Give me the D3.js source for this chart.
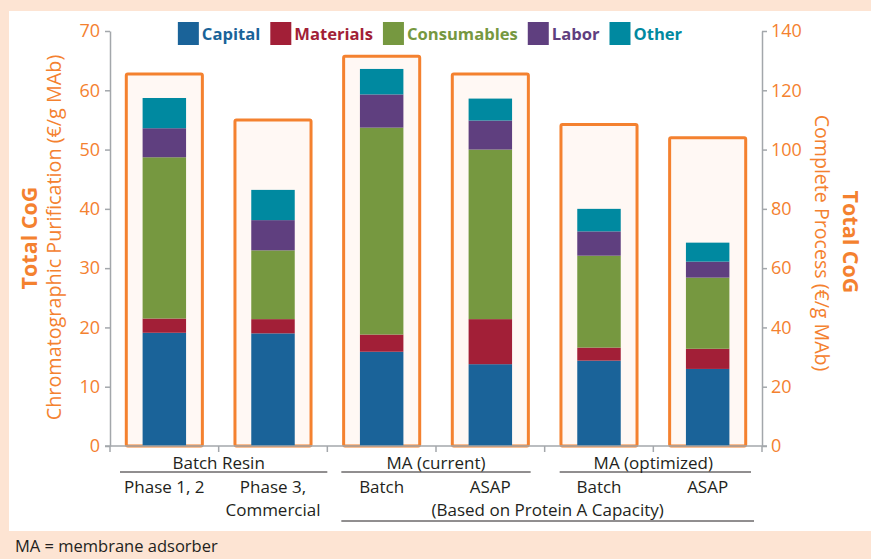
<!DOCTYPE html>
<html><head><meta charset="utf-8">
<script src="https://cdn.jsdelivr.net/npm/d3@7"></script>
<style>
html,body{margin:0;padding:0;background:#fde4d3;}
svg{display:block;font-family:"Open Sans","Noto Sans",sans-serif;}
</style></head>
<body>
<svg id="chart" width="871" height="559"></svg>
<script>
// ---- data ----
const categories = ["c1", "c2", "c3", "c4", "c5", "c6"];
const categoryLabels = [["Phase 1, 2"], ["Phase 3,", "Commercial"], ["Batch"], ["ASAP"], ["Batch"], ["ASAP"]];
const seriesNames = ["Capital", "Materials", "Consumables", "Labor", "Other"];
const capital     = [19.1, 19.0, 15.9, 13.8, 14.4, 13.0];
const materials   = [2.4, 2.4, 2.9, 7.6, 2.2, 3.4];
const consumables = [27.2, 11.6, 34.9, 28.6, 15.5, 12.0];
const labor       = [4.9, 5.1, 5.6, 4.9, 4.1, 2.7];
const other       = [5.1, 5.1, 4.3, 3.7, 3.8, 3.2];
const totalComplete = [125.5, 110, 131.5, 125.5, 108.5, 104];
const leftTicks  = [0, 10, 20, 30, 40, 50, 60, 70];
const rightTicks = [0, 20, 40, 60, 80, 100, 120, 140];
const groupLabels = ["Batch Resin", "MA (current)", "MA (optimized)"];
const groupRanges = [[0, 1], [2, 3], [4, 5]];
const spanLabel = "(Based on Protein A Capacity)";
const spanRange = [2, 5];
const leftTitle = ["Total CoG", "Chromatographic Purification (€/g MAb)"];
const rightTitle = ["Total CoG", "Complete Process (€/g MAb)"];
const note = "MA = membrane adsorber";

// ---- styles ----
const colors = ["#1a6399", "#a21f37", "#769840", "#5f3f7f", "#0089a0"];
const orange = "#f4812f";
const axisGray = "#a3a7ab";

const svg = d3.select("#chart");
// white panel
svg.append("rect").attr("x", 9).attr("y", 11).attr("width", 862).attr("height", 520).attr("fill", "#ffffff");

const x0 = 110, x1 = 762, yBottom = 446, yTop = 31;
const x = d3.scaleBand().domain(categories).range([x0, x1]).padding(0);
const yL = d3.scaleLinear().domain([0, 70]).range([yBottom, yTop]);
const yR = d3.scaleLinear().domain([0, 140]).range([yBottom, yTop]);
const bw = x.bandwidth();

// outline boxes (complete process totals)
const boxW = bw * 0.70;
svg.append("g").selectAll("rect").data(categories).join("rect")
  .attr("x", (d) => x(d) + (bw - boxW) / 2)
  .attr("y", (d, i) => yR(totalComplete[i]))
  .attr("width", boxW)
  .attr("height", (d, i) => yBottom - yR(totalComplete[i]))
  .attr("fill", "#fff8f4")
  .attr("stroke", orange).attr("stroke-width", 3).attr("rx", 1.5);

// stacked bars
const rows = categories.map((c, i) => ({
  cat: c, Capital: capital[i], Materials: materials[i], Consumables: consumables[i], Labor: labor[i], Other: other[i]
}));
const stack = d3.stack().keys(seriesNames)(rows);
const barW = bw * 0.40;
svg.append("g").selectAll("g").data(stack).join("g")
  .attr("fill", (d, i) => colors[i])
  .selectAll("rect").data((d) => d).join("rect")
  .attr("x", (d) => x(d.data.cat) + (bw - barW) / 2)
  .attr("y", (d) => yL(d[1]))
  .attr("width", barW)
  .attr("height", (d) => yL(d[0]) - yL(d[1]));

// axes
const fontTick = 18;
const gL = svg.append("g").attr("transform", `translate(${x0},0)`)
  .call(d3.axisLeft(yL).tickValues(leftTicks).tickSize(5).tickPadding(5).tickSizeOuter(0));
const gR = svg.append("g").attr("transform", `translate(${x1},0)`)
  .call(d3.axisRight(yR).tickValues(rightTicks).tickSize(5).tickPadding(4).tickSizeOuter(0));
const gB = svg.append("g").attr("transform", `translate(0,${yBottom})`)
  .call(d3.axisBottom(x).tickValues([]).tickSize(0).tickSizeOuter(0));
[gL, gR].forEach((g) => {
  g.select(".domain").attr("stroke", axisGray).attr("stroke-width", 1.5);
  g.selectAll(".tick line").attr("stroke", axisGray).attr("stroke-width", 1.5);
  g.selectAll(".tick text").attr("fill", orange).attr("font-size", fontTick)
    .attr("font-family", "'Open Sans', sans-serif");
});
gB.select(".domain").attr("stroke", axisGray).attr("stroke-width", 1.5).attr("d", `M${x0 - 5},0H${x1 + 5}`);
// band boundary ticks on the category axis
const bounds = categories.map((c) => x(c)).concat([x1]);
svg.append("g").selectAll("line").data(bounds).join("line")
  .attr("x1", (d) => d).attr("x2", (d) => d)
  .attr("y1", yBottom).attr("y2", yBottom + 6)
  .attr("stroke", axisGray).attr("stroke-width", 1.5);

// category labels
const catG = svg.append("g").attr("font-size", 17).attr("fill", "#231f20").attr("text-anchor", "middle");
categoryLabels.forEach((lines, i) => {
  lines.forEach((t, j) => {
    catG.append("text").attr("x", x(categories[i]) + bw / 2).attr("y", 493 + j * 23).text(t);
  });
});
// group labels with rules
const groupInsets = [[10, 0], [14, 14], [15, 11]];
groupLabels.forEach((g, k) => {
  const a = x(categories[groupRanges[k][0]]), b = x(categories[groupRanges[k][1]]) + bw;
  const la = a + groupInsets[k][0], lb = b - groupInsets[k][1];
  catG.append("text").attr("x", (a + b) / 2).attr("y", 468.5).text(g);
  svg.append("line").attr("x1", la).attr("x2", lb).attr("y1", 472).attr("y2", 472)
    .attr("stroke", "#231f20").attr("stroke-width", 1);
});
{
  const a = x(categories[spanRange[0]]), b = x(categories[spanRange[1]]) + bw;
  catG.append("text").attr("x", (a + 14 + b - 8) / 2).attr("y", 516).text(spanLabel);
  svg.append("line").attr("x1", a + 14).attr("x2", b - 8).attr("y1", 521).attr("y2", 521)
    .attr("stroke", "#231f20").attr("stroke-width", 1);
}

// axis titles
svg.append("text").attr("transform", "translate(37,238) rotate(-90)")
  .attr("text-anchor", "middle").attr("font-size", 21.5).attr("font-weight", "bold").attr("fill", orange).text(leftTitle[0]);
svg.append("text").attr("transform", "translate(61,237.5) rotate(-90)")
  .attr("text-anchor", "middle").attr("font-size", 19.8).attr("font-weight", 500).attr("fill", orange).text(leftTitle[1]);
svg.append("text").attr("transform", "translate(843,242) rotate(90)")
  .attr("text-anchor", "middle").attr("font-size", 21.5).attr("font-weight", "bold").attr("fill", orange).text(rightTitle[0]);
svg.append("text").attr("transform", "translate(815,243) rotate(90)")
  .attr("text-anchor", "middle").attr("font-size", 19.6).attr("font-weight", 500).attr("fill", orange).text(rightTitle[1]);

// legend
const leg = svg.append("g");
let lx = 0;
seriesNames.forEach((s, i) => {
  const it = leg.append("g").attr("transform", `translate(${lx},0)`);
  it.append("rect").attr("x", 0).attr("y", 22).attr("width", 21).attr("height", 23).attr("fill", colors[i]);
  const t = it.append("text").attr("x", 24).attr("y", 40).attr("font-size", 16.6).attr("font-weight", "bold")
    .attr("fill", colors[i]).text(s);
  lx += 24 + t.node().getComputedTextLength() + 10;
});
const legW = lx - 10;
leg.attr("transform", `translate(${430 - legW / 2},0)`);

// note
svg.append("text").attr("x", 15).attr("y", 552).attr("font-size", 16.5).attr("fill", "#231f20").text(note);
</script>
</body></html>
